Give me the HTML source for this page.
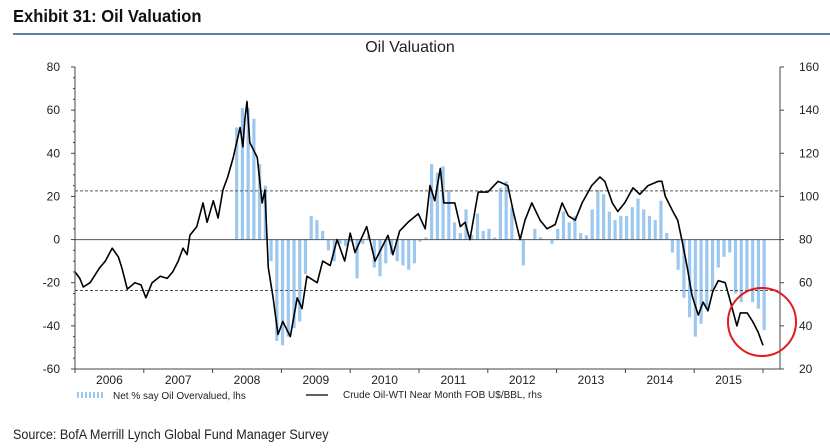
<!DOCTYPE html>
<html><head><meta charset="utf-8"><style>
body{margin:0;background:#fff;width:830px;height:448px;overflow:hidden}
svg{display:block}
</style></head><body>
<svg id="chart" width="830" height="448" xmlns="http://www.w3.org/2000/svg">
<text x="13" y="22" font-family="'Liberation Sans Narrow','Liberation Sans',sans-serif" font-weight="bold" font-size="18" fill="#111" transform="scale(0.92,1)" style="transform-origin:13px 22px">Exhibit 31: Oil Valuation</text>
<rect x="13" y="33" width="817" height="2" fill="#5f7fa3"/>
<text x="410" y="52" text-anchor="middle" font-family="'Liberation Sans',sans-serif" font-size="16" fill="#222">Oil Valuation</text>
<g id="plot"></g>
<g>
<g>
<rect x="77" y="392" width="2" height="6" fill="#9cc8f0"/><rect x="81" y="392" width="2" height="6" fill="#9cc8f0"/><rect x="85" y="392" width="2" height="6" fill="#9cc8f0"/><rect x="89" y="392" width="2" height="6" fill="#9cc8f0"/><rect x="93" y="392" width="2" height="6" fill="#9cc8f0"/><rect x="97" y="392" width="2" height="6" fill="#9cc8f0"/><rect x="101" y="392" width="2" height="6" fill="#9cc8f0"/>
<text x="113" y="399" font-family="'Liberation Sans',sans-serif" font-size="10" fill="#222">Net % say Oil Overvalued, lhs</text></g>
<g>
<line x1="306" y1="395" x2="328" y2="395" stroke="#000" stroke-width="1.2"/>
<text x="343" y="398" font-family="'Liberation Sans',sans-serif" font-size="10" fill="#222">Crude Oil-WTI Near Month FOB U$/BBL, rhs</text></g>
</g>
<text x="13" y="439" font-family="'Liberation Sans Narrow','Liberation Sans',sans-serif" font-size="14" fill="#222" transform="scale(0.9,1)" style="transform-origin:13px 439px">Source: BofA Merrill Lynch Global Fund Manager Survey</text>
<circle cx="762" cy="322" r="34" fill="none" stroke="#e31b1b" stroke-width="2"/>
</svg>
<script>
const leftTicks=[80,60,40,20,0,-20,-40,-60];
const rightTicks=[160,140,120,100,80,60,40,20];
const yearLabels=[2006,2007,2008,2009,2010,2011,2012,2013,2014,2015];
const refLines=[22.6,-23.6];
const barStart=2008.35;
const barValues=[52,61,61,56,35,25,-10,-47,-49,-45,-41,-38,-16,11,9,4,-5,-10,-2,-3,-1,-18,-2,2,-13,-17,-11,-7,-10,-12,-14,-11,-1,1,35,31,34,23,8,3,14,2,12,4,5,1,24,27,15,0,-12,0,5,1,0,-2,5,13,8,11,3,2,14,23,21,13,9,11,11,15,19,14,11,9,18,3,-6,-14,-27,-36,-45,-39,-32,-24,-13,-8,-6,-25,-29,-24,-29,-32,-42];
const oilDates=[2006.00,2006.07,2006.12,2006.22,2006.36,2006.44,2006.54,2006.63,2006.68,2006.76,2006.87,2006.96,2007.03,2007.12,2007.24,2007.34,2007.42,2007.50,2007.57,2007.63,2007.67,2007.77,2007.86,2007.92,2008.01,2008.08,2008.15,2008.22,2008.30,2008.40,2008.44,2008.47,2008.50,2008.54,2008.65,2008.72,2008.76,2008.81,2008.88,2008.95,2009.02,2009.13,2009.23,2009.30,2009.37,2009.52,2009.60,2009.71,2009.81,2009.92,2010.00,2010.07,2010.24,2010.36,2010.55,2010.62,2010.72,2010.84,2010.99,2011.09,2011.16,2011.23,2011.31,2011.36,2011.52,2011.60,2011.67,2011.74,2011.86,2012.00,2012.15,2012.29,2012.37,2012.47,2012.54,2012.64,2012.76,2012.86,2012.98,2013.08,2013.17,2013.27,2013.37,2013.51,2013.63,2013.70,2013.81,2013.89,2013.99,2014.11,2014.21,2014.33,2014.48,2014.53,2014.58,2014.69,2014.76,2014.82,2014.90,2014.97,2015.06,2015.13,2015.20,2015.27,2015.35,2015.45,2015.52,2015.62,2015.67,2015.77,2015.85,2015.93,2016.00];
const oilPrices=[65,62,58,60,67,70,76,72,67,57,60,59,53,60,63,62,65,70,76,73,82,86,97,88,98,90,103,109,118,132,123,136,144,125,118,97,103,67,53,36,42,35,53,48,63,60,70,68,80,70,83,74,86,70,82,73,84,88,92,85,105,98,113,97,97,86,88,80,102,102,107,105,93,80,89,97,89,85,87,97,91,89,97,105,109,107,97,93,97,104,101,105,107,107,100,93,89,80,67,54,45,51,47,56,61,60,52,40,46,46,42,37,31];

const NS='http://www.w3.org/2000/svg';
const X0=75,X1=780,YT=67,YB=369;
function xT(t){return X0+(t-2006)*68.8;}
function yL(v){return YT+(80-v)*(YB-YT)/140;}
function yR(v){return YT+(160-v)*(YB-YT)/140;}
const g=document.getElementById('plot');
function mk(tag,attrs,parent){const e=document.createElementNS(NS,tag);for(const k in attrs)e.setAttribute(k,attrs[k]);(parent||g).appendChild(e);return e;}
const F="'Liberation Sans',sans-serif";
// bars
const bg=mk('g',{});


barValues.forEach((v,i)=>{const x=xT(barStart+i/12);const y0=yL(0),y1=yL(v);
 const r=mk('rect',{x:x-1.6,y:Math.min(y0,y1),width:3.2,height:Math.max(0.5,Math.abs(y1-y0)),fill:'#9cc8f0'},bg);
 
 });
// zero line & ref lines
const z=mk('line',{x1:X0,x2:X1,y1:yL(0),y2:yL(0),stroke:'#555','stroke-width':1});


refLines.forEach(v=>{const l=mk('line',{x1:X0,x2:X1,y1:yL(v),y2:yL(v),stroke:'#555','stroke-width':1,'stroke-dasharray':'3,2'});
 
 });
// oil line
let d='';oilDates.forEach((t,i)=>{d+=(i?'L':'M')+xT(t).toFixed(1)+','+yR(oilPrices[i]).toFixed(1);});
const p=mk('path',{d:d,fill:'none',stroke:'#000','stroke-width':1.6,'stroke-linejoin':'round'});


// axes
const ax=mk('g',{stroke:'#444','stroke-width':1,fill:'none'});


mk('line',{x1:X0,x2:X0,y1:YT,y2:YB},ax);
mk('line',{x1:X1,x2:X1,y1:YT,y2:YB},ax);
mk('line',{x1:X0,x2:X1,y1:YB,y2:YB},ax);
for(let v=-60;v<=80;v+=5){mk('line',{x1:X0-(v%20===0?4:2),x2:X0,y1:yL(v),y2:yL(v)},ax);}
rightTicks.forEach(v=>mk('line',{x1:X1,x2:X1+4,y1:yR(v),y2:yR(v)},ax));
for(let yr=2006;yr<=2016;yr++){mk('line',{x1:xT(yr),x2:xT(yr),y1:YB,y2:YB+4},ax);}
leftTicks.forEach(v=>{const t=mk('text',{x:60,y:yL(v)+4,'text-anchor':'end','font-family':F,'font-size':12,fill:'#222'});t.textContent=v;
 
 });
rightTicks.forEach(v=>{const t=mk('text',{x:799,y:yR(v)+4,'font-family':F,'font-size':12,fill:'#222'});t.textContent=v;
 
 });
yearLabels.forEach(yr=>{const t=mk('text',{x:xT(yr+0.5),y:384,'text-anchor':'middle','font-family':F,'font-size':12,fill:'#222'});t.textContent=yr;
 
 });
</script>
</body></html>
